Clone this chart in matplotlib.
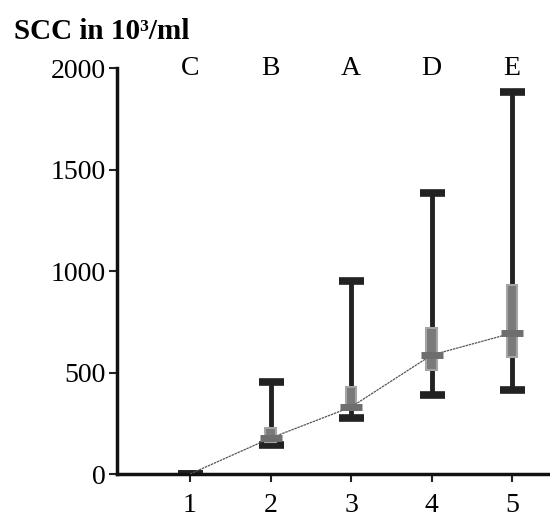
import matplotlib.pyplot as plt
import numpy as np

plt.rcParams['font.family'] = ['Liberation Serif', 'DejaVu Serif']

groups = [1, 2, 3, 4, 5]
letters = ['C', 'B', 'A', 'D', 'E']
medians = [0, 177, 330, 586, 694]
lows = [0, 143, 276, 389, 414]
highs = [0, 453, 950, 1384, 1882]
q1 = [0, 160, 315, 512, 576]
q3 = [0, 225, 430, 719, 930]

fig = plt.figure(figsize=(5.5, 5.24), dpi=100)
ax = fig.add_axes([0.2127, 0.0954, 0.7873, 0.7748])

x = np.array(groups)
med = np.array(medians)

# whiskers with caps
ax.errorbar(x, med, yerr=[med - np.array(lows), np.array(highs) - med],
            fmt='none', ecolor='#222222', elinewidth=3.5, capsize=9, capthick=5.5, zorder=2)

# grey boxes
box_b = np.array(q1)
box_h = np.array(q3) - box_b
ax.bar(x[1:], box_h[1:], bottom=box_b[1:], width=0.13, color='#7a7a7a',
       edgecolor='#a5a5a5', linewidth=1.5, zorder=3)

# median line
ax.plot(x, med, color='#555555', linewidth=0.9, linestyle=(0, (2, 0.6)), zorder=4)
ax.plot(x[1:], med[1:], linestyle='none', marker='_', markersize=16, mew=5,
        color='#6e6e6e', zorder=5)

for xi, lab in zip(groups, letters):
    ax.text(xi, 2000, lab, ha='center', va='center', fontsize=20)

ax.set_xlim(0.093, 5.47)
ax.set_ylim(0, 2000)
ax.set_yticks([0, 500, 1000, 1500, 2000])
ax.set_xticks(groups)
ax.tick_params(axis='both', labelsize=20, width=1.5, length=6, color='#222222')
ax.tick_params(axis='x', pad=8)
ax.tick_params(axis='y', pad=2)
for s in ['top', 'right']:
    ax.spines[s].set_visible(False)
for s in ['left', 'bottom']:
    ax.spines[s].set_linewidth(2.5)
    ax.spines[s].set_color('#111111')
ax.spines['left'].set_bounds(0, 2000)

fig.text(0.025, 0.94, 'SCC in 10³/ml', fontsize=21, fontweight='bold',
         ha='left', va='center')

fig.savefig('out.png', dpi=100)
